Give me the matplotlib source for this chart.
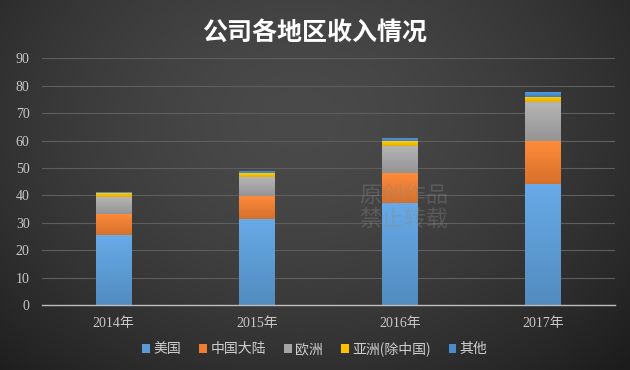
import numpy as np
import matplotlib
matplotlib.use("Agg")
import matplotlib.pyplot as plt
from matplotlib.colors import to_rgb

plt.rcParams['font.family'] = ['Liberation Serif', 'Noto Sans CJK SC', 'DejaVu Sans']

title = "公司各地区收入情况"
categories = ["2014年", "2015年", "2016年", "2017年"]
series_names = ["美国", "中国大陆", "欧洲", "亚洲(除中国)", "其他"]
us = [25.5, 31.4, 37.3, 44.3]
china = [7.7, 8.4, 10.9, 15.6]
europe = [6.1, 6.8, 9.9, 14.2]
asia = [1.5, 1.4, 1.7, 1.9]
other = [0.3, 0.9, 1.2, 1.7]
yticks = [0, 10, 20, 30, 40, 50, 60, 70, 80, 90]

series = [us, china, europe, asia, other]
colors = ["#5b9bd5", "#ed7d31", "#a5a5a5", "#ffc000", "#4a8bd0"]

fig = plt.figure(figsize=(6.3, 3.7), dpi=100)

# background radial gradient
bg = fig.add_axes([0, 0, 1, 1], zorder=-10)
yy, xx = np.mgrid[0:370, 0:630]
cx, cy = 300, 120
r = np.sqrt(((xx - cx) / 420.0) ** 2 + ((yy - cy) / 330.0) ** 2)
v = np.clip(0.29 - 0.16 * r ** 1.6, 0.11, 0.30)
bg.imshow(np.dstack([v, v, v]), aspect='auto', extent=[0, 1, 0, 1])
bg.axis('off')

ax = fig.add_axes([0.0667, 0.1757, 0.9093, 0.6667])
ax.patch.set_alpha(0)
x = np.arange(len(categories))
bottom = np.zeros(len(categories))
width = 0.25
for name, vals, col in zip(series_names, series, colors):
    bars = ax.bar(x, vals, width, bottom=bottom, color=col, label=name, zorder=3)
    base = np.array(to_rgb(col))
    light = np.clip(base * 1.05 + 0.03, 0, 1)
    dark = base * 0.9
    for b in bars:
        h = b.get_height()
        if h <= 0:
            continue
        t = np.linspace(0, 1, 64)[:, None]
        grad = light[None, :] * (1 - t) + dark[None, :] * t
        img = ax.imshow(grad[:, None, :], aspect='auto',
                        extent=[b.get_x(), b.get_x() + b.get_width(),
                                b.get_y(), b.get_y() + h],
                        zorder=3.5, interpolation='bilinear')
        img.set_clip_path(b)
    bottom += np.array(vals)

ax.set_xlim(-0.5, len(categories) - 0.5)
ax.set_ylim(0, 90)
ax.set_yticks(yticks)
ax.set_xticks(x)
ax.set_xticklabels(categories)
ax.yaxis.grid(True, color="#5e5e5e", linewidth=0.8, zorder=0)
ax.set_axisbelow(True)
for s in ["top", "right", "left"]:
    ax.spines[s].set_visible(False)
ax.spines["bottom"].set_color("#bdbdbd")
ax.spines["bottom"].set_linewidth(1.0)
ax.spines["bottom"].set_zorder(4)
ax.tick_params(axis='both', length=0, colors="#c8c8c8", labelsize=10)
ax.tick_params(axis='y', pad=9)
ax.tick_params(axis='x', pad=9)

fig.text(0.5, 0.912, title, ha='center', va='center', color='white',
         fontsize=18, fontweight='bold', family=['Noto Sans CJK SC'])

# watermark
fig.text(0.57, 0.44, "原创作品\n禁止转载", color="#8a8a8a", alpha=0.35,
         fontsize=16, family=['Noto Sans CJK SC'], ha='left', va='center',
         linespacing=1.05, zorder=10)

handles, labels = ax.get_legend_handles_labels()
leg = fig.legend(handles, labels, loc='center', bbox_to_anchor=(0.5, 0.057),
                 ncol=5, frameon=False, handlelength=0.55,
                 handleheight=0.55, handletextpad=0.25, columnspacing=1.3,
                 prop={'family': ['Noto Sans CJK SC'], 'size': 10})
for t in leg.get_texts():
    t.set_color("#cfcfcf")

fig.savefig("out.png", dpi=100)
